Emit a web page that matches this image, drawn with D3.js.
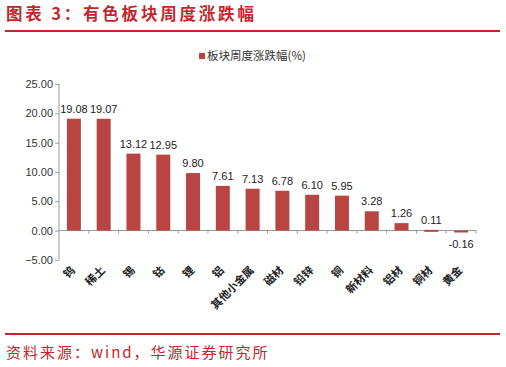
<!DOCTYPE html>
<html>
<head>
<meta charset="utf-8">
<script src="https://cdn.jsdelivr.net/npm/d3@7"></script>
<style>
  body { margin: 0; background: #fff; }
  svg { display: block; }
</style>
</head>
<body>
<div id="chart"></div>
<script>
var categories = ["钨", "稀土", "锡", "钴", "锂", "铝", "其他小金属", "磁材", "铅锌", "铜", "新材料", "铝材", "铜材", "黄金"];
var values = [19.08, 19.07, 13.12, 12.95, 9.80, 7.61, 7.13, 6.78, 6.10, 5.95, 3.28, 1.26, 0.11, -0.16];
var yTicks = [-5, 0, 5, 10, 15, 20, 25];
var seriesName = "板块周度涨跌幅(%)";

draw();

function draw() {
  var width = 506;
  var height = 367;
  var red = "#c3262d";
  var barColor = "#b94543";

  var svg = d3.select("#chart")
    .append("svg")
    .attr("width", width)
    .attr("height", height);

  // title + rule
  svg.append("text")
    .attr("x", 6)
    .attr("y", 20)
    .attr("fill", red)
    .style("font-family", "Noto Sans CJK SC")
    .style("font-weight", "bold")
    .style("font-size", "16.5px")
    .style("letter-spacing", "2.8px")
    .text("图表 3：有色板块周度涨跌幅");

  svg.append("line")
    .attr("x1", 5).attr("x2", 500)
    .attr("y1", 31).attr("y2", 31)
    .style("stroke", red)
    .style("stroke-width", 2);

  // legend
  svg.append("rect")
    .attr("x", 199).attr("y", 53)
    .attr("width", 6).attr("height", 6)
    .attr("fill", barColor);

  svg.append("text")
    .attr("x", 207)
    .attr("y", 60)
    .attr("fill", "#333")
    .style("font-family", "Noto Sans CJK SC, Liberation Sans")
    .style("font-size", "11.5px")
    .text(seriesName);

  var x = d3.scaleBand()
    .domain(categories)
    .range([59, 476])
    .paddingInner(0.53)
    .paddingOuter(0.265);

  var y = d3.scaleLinear()
    .domain([-5, 25])
    .range([259.8, 84]);

  // y axis
  var yAxis = svg.append("g")
    .attr("transform", "translate(59,0)")
    .call(d3.axisLeft(y).tickValues(yTicks).tickSize(4).tickFormat(d3.format(".2f")));

  yAxis.select(".domain").attr("stroke", "#999").attr("d", "M0," + y(25) + "V" + y(-5));
  yAxis.selectAll(".tick line").attr("stroke", "#999");
  yAxis.selectAll(".tick text")
    .attr("x", -6)
    .attr("fill", "#333")
    .style("font-family", "Liberation Sans, Arial")
    .style("font-size", "11px");

  // zero line with band-edge ticks
  var edges = d3.range(categories.length + 1).map(function(i) { return 59 + i * (417 / categories.length); });

  svg.append("line")
    .attr("x1", 59).attr("x2", 476)
    .attr("y1", y(0)).attr("y2", y(0))
    .style("stroke", "#999");

  svg.selectAll("line.xtick")
    .data(edges.slice(1))
    .enter()
    .append("line")
    .attr("class", "xtick")
    .attr("x1", function(d) { return d; })
    .attr("x2", function(d) { return d; })
    .attr("y1", y(0))
    .attr("y2", y(0) + 3)
    .style("stroke", "#999");

  // bars
  svg.selectAll("rect.bar")
    .data(values)
    .enter()
    .append("rect")
    .attr("class", "bar")
    .attr("x", function(d, i) { return x(categories[i]); })
    .attr("width", x.bandwidth())
    .attr("y", function(d) { return y(Math.max(0, d)); })
    .attr("height", function(d) { return Math.max(Math.abs(y(d) - y(0)), 2); })
    .attr("fill", barColor);

  // value labels
  svg.selectAll("text.val")
    .data(values)
    .enter()
    .append("text")
    .attr("class", "val")
    .attr("x", function(d, i) { return x(categories[i]) + x.bandwidth() / 2; })
    .attr("y", function(d) { return d >= 0 ? y(d) - 6 : y(0) + 17; })
    .attr("text-anchor", "middle")
    .attr("fill", "#222")
    .style("font-family", "Liberation Sans, Arial")
    .style("font-size", "11px")
    .text(function(d) { return d.toFixed(2); });

  // category labels
  svg.selectAll("text.cat")
    .data(categories)
    .enter()
    .append("text")
    .attr("class", "cat")
    .attr("text-anchor", "end")
    .attr("transform", function(d) {
      var cx = x(d) + x.bandwidth() / 2 + 2;
      return "translate(" + cx + ",271) rotate(-45)";
    })
    .attr("fill", "#222")
    .style("font-family", "Noto Sans CJK SC")
    .style("font-weight", "bold")
    .style("font-size", "11px")
    .text(function(d) { return d; });

  // footer
  svg.append("line")
    .attr("x1", 5).attr("x2", 500)
    .attr("y1", 334).attr("y2", 334)
    .style("stroke", red)
    .style("stroke-width", 2);

  svg.append("text")
    .attr("x", 6)
    .attr("y", 358)
    .attr("fill", red)
    .style("font-family", "Noto Sans CJK SC")
    .style("font-size", "15px")
    .style("letter-spacing", "2px")
    .text("资料来源：wind，华源证券研究所");
}
</script>
</body>
</html>
